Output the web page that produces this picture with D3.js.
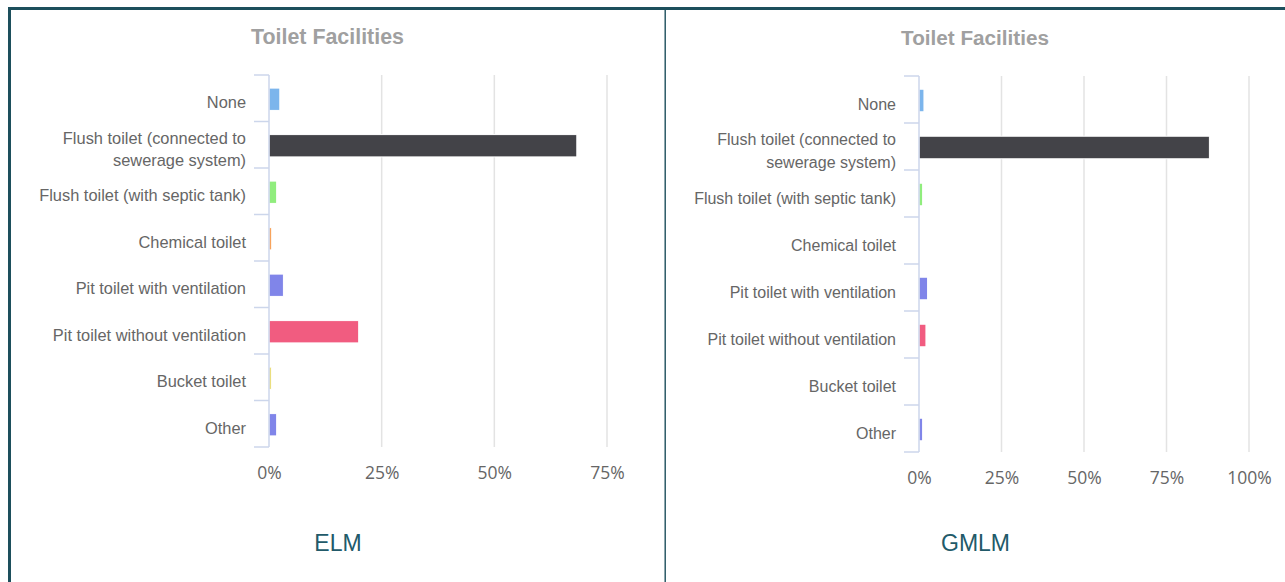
<!DOCTYPE html>
<html>
<head>
<meta charset="utf-8">
<script src="https://cdn.jsdelivr.net/npm/d3@7"></script>
<style>
  html, body { margin: 0; padding: 0; background: #ffffff; }
  svg { display: block; }
</style>
</head>
<body>
<svg id="chart" width="1285" height="582"></svg>
<script>
// Share of households by toilet facility type, per municipality (percent)
const categories = [
  "None",
  "Flush toilet (connected to sewerage system)",
  "Flush toilet (with septic tank)",
  "Chemical toilet",
  "Pit toilet with ventilation",
  "Pit toilet without ventilation",
  "Bucket toilet",
  "Other"
];
const elmValues  = [2.4, 68.3, 1.7, 0.6, 3.2, 19.9, 0.5, 1.7];
const gmlmValues = [1.5, 88.0, 1.1, 0.0, 2.6, 2.1, 0.0, 1.1];
const barColors = ["#7cb5ec", "#434348", "#90ed7d", "#f7a35c", "#8085e9", "#f15c80", "#e4d354", "#8085e9"];
const elmTicks  = [0, 25, 50, 75];
const gmlmTicks = [0, 25, 50, 75, 100];
const chartTitle = "Toilet Facilities";
const panelNames = ["ELM", "GMLM"];

const svg = d3.select("#chart");
const frameColor = "#1d4f5c";

// frame: top rule, left rule, divider between the two panels
svg.append("rect").attr("x", 8).attr("y", 7).attr("width", 1285).attr("height", 3).attr("fill", frameColor);
svg.append("rect").attr("x", 8).attr("y", 7).attr("width", 3).attr("height", 600).attr("fill", frameColor);
svg.append("rect").attr("x", 664.5).attr("y", 9).attr("width", 1.4).attr("height", 600).attr("fill", frameColor);

const panels = [
  { name: panelNames[0], values: elmValues, ticks: elmTicks,
    left: 269, right: 607, top: 75, bottom: 447, titleX: 327.5, nameX: 338,
    labelSize: 16.4, titleSize: 21.4 },
  { name: panelNames[1], values: gmlmValues, ticks: gmlmTicks,
    left: 919, right: 1249, top: 76, bottom: 452, titleX: 975, nameX: 975.5,
    labelSize: 16.0, titleSize: 20.7 }
];

function wrapLabel(textSel, maxWidth, lineHeight) {
  textSel.each(function () {
    const t = d3.select(this);
    const words = t.text().split(/\s+/);
    t.text(null);
    let lines = [];
    let line = [];
    const probe = t.append("tspan");
    for (const w of words) {
      line.push(w);
      probe.text(line.join(" "));
      if (probe.node().getComputedTextLength() > maxWidth && line.length > 1) {
        line.pop();
        lines.push(line.join(" "));
        line = [w];
      }
    }
    lines.push(line.join(" "));
    probe.remove();
    const x = t.attr("x");
    const offset = -(lines.length - 1) / 2 * lineHeight;
    lines.forEach((l, i) => {
      t.append("tspan").attr("x", x).attr("dy", i === 0 ? offset : lineHeight).text(l);
    });
  });
}

panels.forEach(p => {
  const g = svg.append("g");

  const x = d3.scaleLinear().domain([0, d3.max(p.ticks)]).range([p.left, p.right]);
  const y = d3.scaleBand().domain(categories).range([p.top, p.bottom]).padding(0);

  // title
  g.append("text")
    .attr("x", p.titleX).attr("y", 37)
    .attr("text-anchor", "middle").attr("dominant-baseline", "central")
    .attr("font-family", "'Liberation Sans', Arial, sans-serif")
    .attr("font-size", p.titleSize).attr("font-weight", "bold")
    .attr("fill", "#a0a0a0")
    .text(chartTitle);

  // vertical grid lines
  g.append("g")
    .selectAll("line")
    .data(p.ticks.filter(t => t > 0))
    .join("line")
    .attr("x1", d => x(d)).attr("x2", d => x(d))
    .attr("y1", p.top).attr("y2", p.bottom)
    .attr("stroke", "#e3e3e3").attr("stroke-width", 1.5);

  // x axis labels
  const xAxis = d3.axisBottom(x).tickValues(p.ticks).tickSize(0).tickFormat(d => d + "%");
  const xg = g.append("g").attr("transform", `translate(0,${p.bottom + 26})`).call(xAxis);
  xg.select(".domain").remove();
  xg.selectAll("text")
    .attr("dy", "0.35em").attr("y", 0)
    .attr("font-family", "'Open Sans', sans-serif")
    .attr("font-size", 17.5)
    .attr("fill", "#666666");

  // bars
  const barH = y.bandwidth() * 0.48;
  g.append("g")
    .selectAll("rect")
    .data(categories.map((c, i) => ({ c, v: p.values[i], col: barColors[i] })).filter(d => d.v > 0))
    .join("rect")
    .attr("x", x(0))
    .attr("y", d => y(d.c) + y.bandwidth() / 2 - barH / 2 + 1)
    .attr("width", d => x(d.v) - x(0))
    .attr("height", barH)
    .attr("fill", d => d.col)
    .attr("stroke", "#ffffff").attr("stroke-width", 1);

  // category axis: line, boundary ticks, labels
  const yAxis = d3.axisLeft(y).tickSize(0).tickPadding(23);
  const yg = g.append("g").attr("transform", `translate(${p.left},0)`).call(yAxis);
  yg.select(".domain").remove();
  yg.selectAll("text")
    .attr("dy", null)
    .attr("dominant-baseline", "central")
    .attr("y", 4)
    .attr("font-family", "'Liberation Sans', Arial, sans-serif")
    .attr("font-size", p.labelSize)
    .attr("fill", "#666666")
    .call(wrapLabel, 222, 22.5);

  const bounds = categories.map(c => y(c)).concat([p.bottom]);
  g.append("g")
    .selectAll("line")
    .data(bounds)
    .join("line")
    .attr("x1", p.left - 15).attr("x2", p.left)
    .attr("y1", d => d).attr("y2", d => d)
    .attr("stroke", "#ccd6eb").attr("stroke-width", 1.5);
  g.append("line")
    .attr("x1", p.left).attr("x2", p.left)
    .attr("y1", p.top).attr("y2", p.bottom)
    .attr("stroke", "#ccd6eb").attr("stroke-width", 1.5);

  // panel name
  g.append("text")
    .attr("x", p.nameX).attr("y", 543)
    .attr("text-anchor", "middle").attr("dominant-baseline", "central")
    .attr("font-family", "'Liberation Sans', Arial, sans-serif")
    .attr("font-size", 23)
    .attr("fill", "#225a69")
    .text(p.name);
});
</script>
</body>
</html>
